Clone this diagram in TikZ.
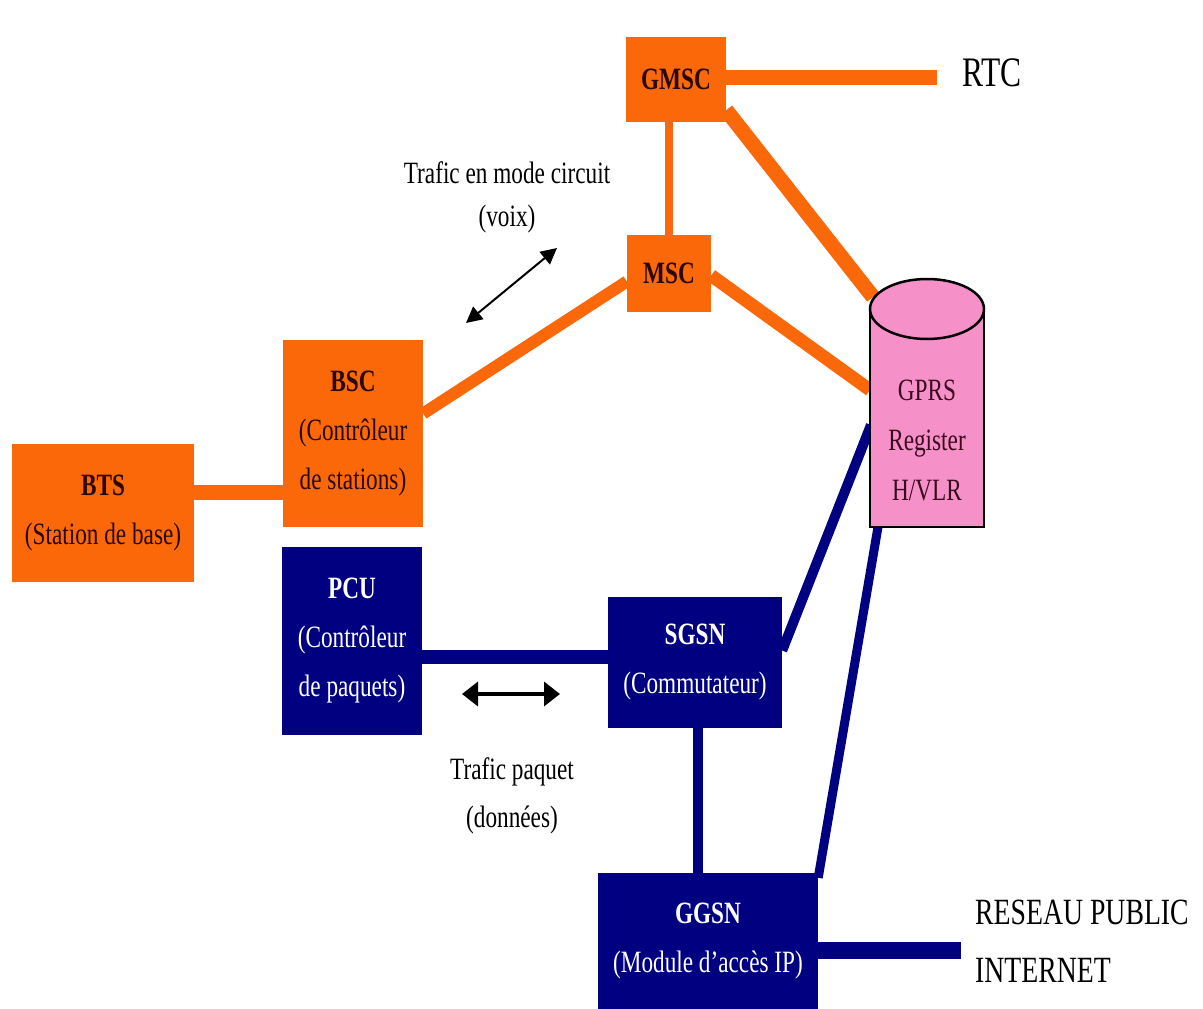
\documentclass[tikz,border=0pt]{standalone}
\usepackage{fontspec}
\setmainfont{Liberation Serif}[FakeStretch=0.75]
\usetikzlibrary{arrows.meta}
\definecolor{gorange}{RGB}{250,104,10}
\definecolor{gnavy}{RGB}{0,0,128}
\definecolor{gpink}{RGB}{245,145,200}
\definecolor{otext}{RGB}{40,8,0}
\definecolor{ptext}{RGB}{60,10,30}
\pgfdeclarelayer{bg}
\pgfsetlayers{bg,main}
\begin{document}
\begin{tikzpicture}[x=1pt,y=-1pt,
  obox/.style={fill=gorange, draw=none, inner sep=0pt, text=otext, align=center, font=\fontsize{31}{49}\selectfont},
  bbox/.style={fill=gnavy, draw=none, inner sep=0pt, text=white, align=center, font=\fontsize{31}{49}\selectfont},
  oline/.style={draw=gorange, line width=#1},
  bline/.style={draw=gnavy, line width=#1},
  lbl/.style={inner sep=0pt, text=black, align=center},
  twohead/.style={draw=black, line width=#1},
]
\useasboundingbox (0,0) rectangle (1203,1009);

% boxes
\node[obox, minimum width=100pt, minimum height=85pt] (gmsc) at (676,79.5) {\textbf{GMSC}};
\node[obox, minimum width=84pt, minimum height=77pt] (msc) at (669,273.5) {\textbf{MSC}};
\node[obox, minimum width=140pt, minimum height=187pt] (bsc) at (353,433.5) {\textbf{BSC}\\(Contrôleur\\de stations)};
\node[obox, minimum width=182pt, minimum height=138pt] (bts) at (103,513) {\textbf{BTS}\\(Station de base)};
\node[bbox, minimum width=140pt, minimum height=188pt] (pcu) at (352,641) {\textbf{PCU}\\(Contrôleur\\de paquets)};
\node[bbox, minimum width=174pt, minimum height=131pt] (sgsn) at (695,662.5) {\textbf{SGSN}\\(Commutateur)};
\node[bbox, minimum width=220pt, minimum height=136pt] (ggsn) at (708,941) {\textbf{GGSN}\\(Module d’accès IP)};

% register cylinder
\filldraw[fill=gpink, draw=black, line width=2.5pt] (870,309) -- (870,527) -- (984,527) -- (984,309) -- cycle;
\filldraw[fill=gpink, draw=black, line width=2.5pt] (927,309) ellipse [x radius=57pt, y radius=30pt];
\node[lbl, text=ptext, font=\fontsize{31}{50}\selectfont] (reg) at (927,440) {GPRS\\Register\\H/VLR};

% free ends
\coordinate (rtcend) at (937,77);
\coordinate (rega) at (873,297);
\coordinate (regb) at (870,390);
\coordinate (regc) at (871,425);
\coordinate (regd) at (878,527);
\coordinate (netend) at (961,950);

% labels
\node[lbl, font=\fontsize{42}{42}\selectfont] (rtc) at (992,73) {RTC};
\node[lbl, align=left, anchor=west, font=\fontsize{37}{58}\selectfont] (net) at (975,941) {RESEAU PUBLIC\\INTERNET};
\node[lbl, font=\fontsize{31}{43}\selectfont] (tcirc) at (507,197) {Trafic en mode circuit\\(voix)};
\node[lbl, font=\fontsize{31}{48}\selectfont] (tpaq) at (512,796) {Trafic paquet\\(données)};

% traffic arrows
\coordinate (va) at (466,323);
\coordinate (vb) at (557,248);
\draw[twohead=2pt, {Triangle[length=16pt,width=16pt]}-{Triangle[length=16pt,width=16pt]}] (va) -- (vb);
\coordinate (pa) at (462,694);
\coordinate (pb) at (560,694);
\draw[twohead=3.5pt, {Triangle[length=16pt,width=24pt]}-{Triangle[length=16pt,width=24pt]}] (pa) -- (pb);

% connectors
\begin{pgfonlayer}{bg}
\fill[white] (0,0) rectangle (1203,1009);
\draw[oline=15pt] ([yshift=2.5pt]gmsc.east) -- (rtcend);
\draw[oline=8pt] (msc.north) -- (msc.north |- gmsc.south);
\draw[oline=15pt] ([yshift=12pt]gmsc.south east) -- (rega);
\draw[oline=13pt] ([yshift=-2pt]msc.east) -- (regb);
\draw[oline=12pt] ([yshift=-8pt]msc.west) -- ([yshift=20pt]bsc.east);
\draw[oline=15pt] ([yshift=21pt]bts.east) -- ([yshift=21pt]bts.east -| bsc.west);
\draw[bline=14pt] ([yshift=-16pt]pcu.east) -- ([yshift=-16pt]pcu.east -| sgsn.west);
\draw[bline=10pt] ([xshift=3pt]sgsn.south) -- ([xshift=-10pt]ggsn.north);
\draw[bline=10pt] ([yshift=12pt]sgsn.east) -- (regc);
\draw[bline=9pt] ([yshift=-5pt]ggsn.north east) -- (regd);
\draw[bline=17pt] ([yshift=-9pt]ggsn.east) -- (netend);
\end{pgfonlayer}
\end{tikzpicture}
\end{document}
